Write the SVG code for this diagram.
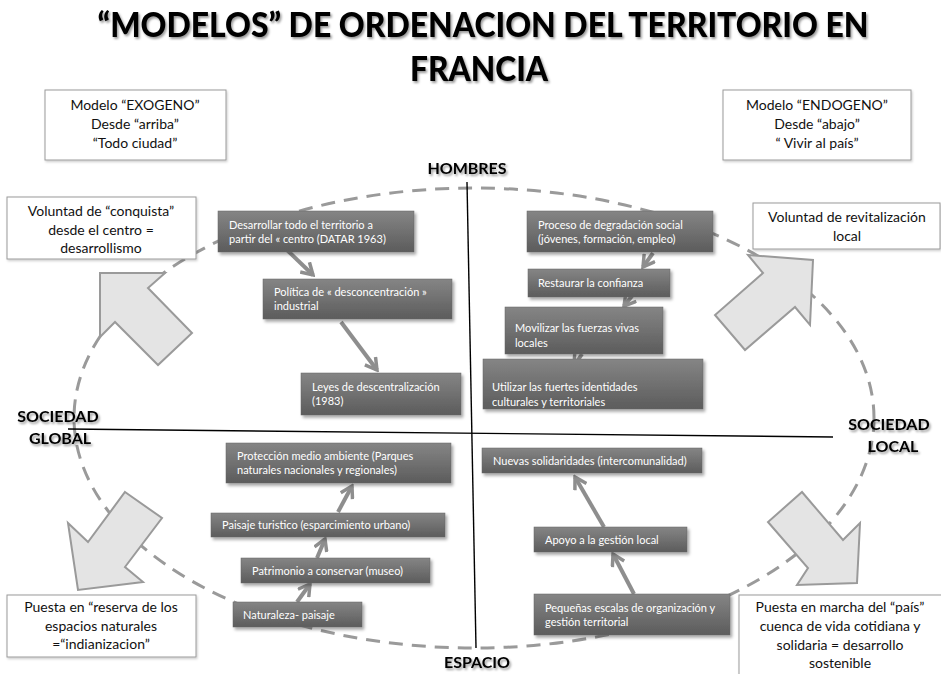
<svg xmlns="http://www.w3.org/2000/svg" width="941" height="674" viewBox="0 0 941 674">
<style>
  .title { font-family: Lato, "Liberation Sans", sans-serif; font-weight: 900; font-size: 35px; fill: #000; }
  .axis { font-family: Lato, "Liberation Sans", sans-serif; font-weight: bold; font-size: 16px; fill: #000; }
  .lbl { font-family: Lato, "Liberation Sans", sans-serif; font-size: 14px; fill: #111; text-anchor: middle; }
  .nt { font-family: Lato, "Liberation Sans", sans-serif; font-size: 11px; fill: #fff; }
  .node { fill: url(#gb); stroke: #666; stroke-width: 0.5; filter: url(#sh); }
  .lbox { fill: #fff; stroke: #9a9a9a; stroke-width: 1; filter: url(#sh2); }
  .conn { stroke: #8e8e8e; stroke-width: 4; fill: none; marker-end: url(#ah); }
  .big { fill: #e4e4e4; stroke: #9a9a9a; stroke-width: 2; stroke-linejoin: miter; }
  .ax { stroke: #000; stroke-width: 1.4; fill: none; }
</style>
<defs>
  <linearGradient id="gb" x1="0" y1="0" x2="0" y2="1">
    <stop offset="0" stop-color="#858585"/>
    <stop offset="1" stop-color="#5c5c5c"/>
  </linearGradient>
  <filter id="sh" x="-10%" y="-20%" width="130%" height="160%">
    <feDropShadow dx="2" dy="2.5" stdDeviation="1.5" flood-color="#000" flood-opacity="0.35"/>
  </filter>
  <filter id="sh2" x="-10%" y="-20%" width="130%" height="160%">
    <feDropShadow dx="1" dy="1.5" stdDeviation="1" flood-color="#000" flood-opacity="0.2"/>
  </filter>
  <filter id="tsh" x="-5%" y="-20%" width="110%" height="160%">
    <feDropShadow dx="1.5" dy="2" stdDeviation="1.2" flood-color="#000" flood-opacity="0.4"/>
  </filter>
  <marker id="ah" viewBox="0 0 12 12" refX="10" refY="6" markerWidth="16" markerHeight="16" markerUnits="userSpaceOnUse" orient="auto">
    <path d="M1.5,1 L10,6 L1.5,11" fill="none" stroke="#8e8e8e" stroke-width="2.6" stroke-linejoin="miter"/>
  </marker>
</defs>

<rect width="941" height="674" fill="#fff"/>

<g id="title" filter="url(#tsh)">
  <text class="title" x="483" y="37" text-anchor="middle" textLength="771" lengthAdjust="spacingAndGlyphs">“MODELOS” DE ORDENACION DEL TERRITORIO EN</text>
  <text class="title" x="479" y="81" text-anchor="middle" textLength="138" lengthAdjust="spacingAndGlyphs">FRANCIA</text>
</g>

<g id="ellipse">
  <ellipse cx="474" cy="418" rx="400" ry="230" fill="none" stroke="#9a9a9a" stroke-width="3" stroke-dasharray="14 9"/>
</g>

<g id="axes">
  <line class="ax" x1="467" y1="182" x2="476" y2="648"/>
  <line class="ax" x1="68" y1="429" x2="833" y2="437"/>
</g>

<g id="axis-labels" filter="url(#tsh)">
  <text class="axis" x="467" y="174" text-anchor="middle">HOMBRES</text>
  <text class="axis" x="477" y="668" text-anchor="middle">ESPACIO</text>
  <text class="axis" x="58" y="422" text-anchor="middle">SOCIEDAD</text>
  <text class="axis" x="60" y="444" text-anchor="middle">GLOBAL</text>
  <text class="axis" x="889" y="430" text-anchor="middle">SOCIEDAD</text>
  <text class="axis" x="893" y="452" text-anchor="middle">LOCAL</text>
</g>

<g id="modelo-exogeno">
  <rect class="lbox" x="45" y="90" width="181" height="70"/>
  <text class="lbl" x="135" y="110">Modelo “EXOGENO”</text>
  <text class="lbl" x="135" y="129">Desde “arriba”</text>
  <text class="lbl" x="135" y="148">“Todo ciudad”</text>
</g>
<g id="modelo-endogeno">
  <rect class="lbox" x="723" y="90" width="188" height="70"/>
  <text class="lbl" x="817" y="110">Modelo “ENDOGENO”</text>
  <text class="lbl" x="817" y="129">Desde “abajo”</text>
  <text class="lbl" x="817" y="148">“ Vivir al país”</text>
</g>

<g id="block-arrows">
  <polygon class="big" points="100,273 165,273 148,288 192,333 158,365 115,322 100,337"/>
  <polygon class="big" points="748,255 813,260 810,325 795,307 745,350 715,315 763,273"/>
  <polygon class="big" points="125,492 162,518 125,567 143,582 78,590 68,523 88,542"/>
  <polygon class="big" points="802,492 843,540 860,523 857,583 797,585 808,568 768,522"/>
</g>

<g id="voluntad-conquista">
  <rect class="lbox" x="7" y="197" width="189" height="62"/>
  <text class="lbl" x="101" y="216">Voluntad de “conquista”</text>
  <text class="lbl" x="101" y="235">desde el centro =</text>
  <text class="lbl" x="101" y="253">desarrollismo</text>
</g>
<g id="voluntad-revitalizacion">
  <rect class="lbox" x="753" y="203" width="187" height="46"/>
  <text class="lbl" x="847" y="222">Voluntad de revitalización</text>
  <text class="lbl" x="847" y="241">local</text>
</g>
<g id="reserva">
  <rect class="lbox" x="7" y="595" width="189" height="62"/>
  <text class="lbl" x="101" y="612">Puesta en “reserva de los</text>
  <text class="lbl" x="101" y="631">espacios naturales</text>
  <text class="lbl" x="101" y="649">=“indianizacion”</text>
</g>
<g id="pais">
  <rect class="lbox" x="739" y="595" width="205" height="85"/>
  <text class="lbl" x="840" y="612">Puesta en marcha del “país”</text>
  <text class="lbl" x="840" y="631">cuenca de vida cotidiana y</text>
  <text class="lbl" x="840" y="650">solidaria = desarrollo</text>
  <text class="lbl" x="840" y="668">sostenible</text>
</g>

<g id="connectors">
  <line class="conn" x1="287" y1="250" x2="313" y2="275"/>
  <line class="conn" x1="341" y1="322" x2="377" y2="370"/>
  <line class="conn" x1="653" y1="253" x2="643" y2="267"/>
  <line class="conn" x1="632" y1="296" x2="624" y2="306"/>
  <line class="conn" x1="582" y1="354" x2="574" y2="366"/>
  <line class="conn" x1="297" y1="602" x2="310" y2="584"/>
  <line class="conn" x1="317" y1="558" x2="325" y2="539"/>
  <line class="conn" x1="338" y1="512" x2="352" y2="486"/>
  <line class="conn" x1="604" y1="527" x2="575" y2="477"/>
  <line class="conn" x1="634" y1="594" x2="613" y2="554"/>
</g>

<g id="n-desarrollar">
  <rect class="node" x="218" y="211" width="196" height="41"/>
  <text class="nt" x="229" y="229">Desarrollar todo el territorio a</text>
  <text class="nt" x="229" y="243">partir del « centro (DATAR 1963)</text>
</g>
<g id="n-politica">
  <rect class="node" x="263" y="279" width="189" height="40"/>
  <text class="nt" x="274" y="296">Política de « desconcentración »</text>
  <text class="nt" x="274" y="310">industrial</text>
</g>
<g id="n-leyes">
  <rect class="node" x="301" y="373" width="160" height="42"/>
  <text class="nt" x="312" y="391">Leyes de descentralización</text>
  <text class="nt" x="312" y="405">(1983)</text>
</g>

<g id="n-proceso">
  <rect class="node" x="527" y="211" width="186" height="41"/>
  <text class="nt" x="538" y="229">Proceso de degradación social</text>
  <text class="nt" x="538" y="243">(jóvenes, formación, empleo)</text>
</g>
<g id="n-restaurar">
  <rect class="node" x="528" y="269" width="142" height="28"/>
  <text class="nt" x="538" y="287">Restaurar la confianza</text>
</g>
<g id="n-movilizar">
  <rect class="node" x="505" y="307" width="158" height="47"/>
  <text class="nt" x="515" y="332">Movilizar las fuerzas vivas</text>
  <text class="nt" x="515" y="347">locales</text>
</g>
<g id="n-utilizar">
  <rect class="node" x="483" y="359" width="220" height="50"/>
  <text class="nt" x="492" y="391">Utilizar las fuertes identidades</text>
  <text class="nt" x="492" y="406">culturales y territoriales</text>
</g>

<g id="n-proteccion">
  <rect class="node" x="226" y="443" width="225" height="40"/>
  <text class="nt" x="237" y="460">Protección medio ambiente (Parques</text>
  <text class="nt" x="237" y="474">naturales nacionales y regionales)</text>
</g>
<g id="n-paisaje">
  <rect class="node" x="211" y="513" width="234" height="24"/>
  <text class="nt" x="222" y="529">Paisaje turistico (esparcimiento urbano)</text>
</g>
<g id="n-patrimonio">
  <rect class="node" x="241" y="558" width="189" height="25"/>
  <text class="nt" x="252" y="575">Patrimonio a conservar (museo)</text>
</g>
<g id="n-naturaleza">
  <rect class="node" x="233" y="602" width="129" height="25"/>
  <text class="nt" x="243" y="619">Naturaleza- paisaje</text>
</g>

<g id="n-nuevas">
  <rect class="node" x="482" y="448" width="220" height="25"/>
  <text class="nt" x="493" y="465">Nuevas solidaridades (intercomunalidad)</text>
</g>
<g id="n-apoyo">
  <rect class="node" x="534" y="527" width="153" height="25"/>
  <text class="nt" x="545" y="544">Apoyo a la gestión local</text>
</g>
<g id="n-pequenas">
  <rect class="node" x="534" y="594" width="196" height="41"/>
  <text class="nt" x="545" y="612">Pequeñas escalas de organización y</text>
  <text class="nt" x="545" y="626">gestión territorial</text>
</g>
</svg>
